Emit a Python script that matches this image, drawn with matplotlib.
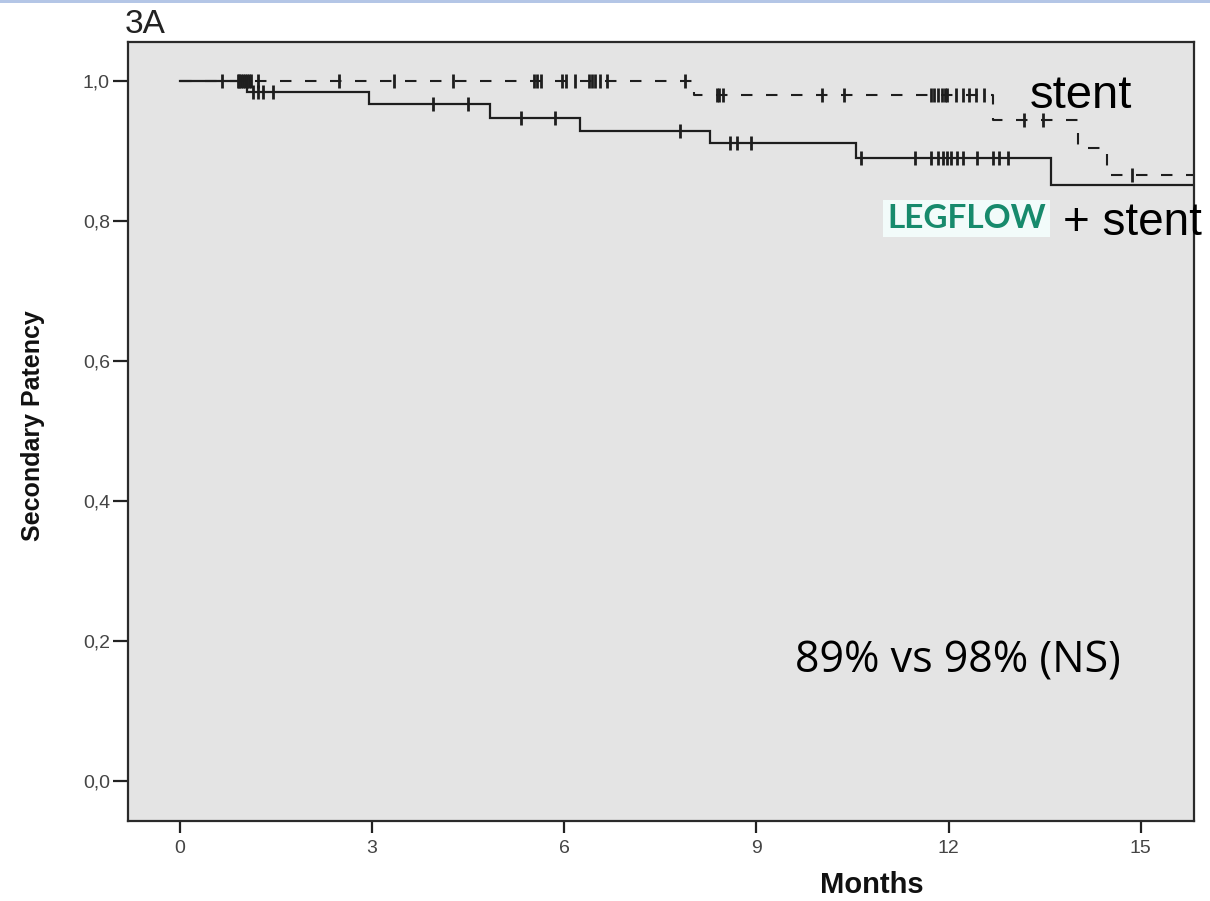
import matplotlib
matplotlib.use("Agg")
import matplotlib.pyplot as plt
import numpy as np
from matplotlib.patches import Rectangle

# ---------------- data ----------------
# LEGFLOW + stent (solid line): Kaplan-Meier steps
legflow_times = [0.0, 1.05, 2.95, 4.84, 6.25, 8.28, 10.55, 13.59, 15.83]
legflow_surv = [1.0, 0.984, 0.968, 0.948, 0.929, 0.911, 0.890, 0.851, 0.851]
legflow_censor = [0.66, 1.14, 1.22, 1.30, 1.45, 3.95, 4.50, 5.33, 5.86, 7.81,
                  8.58, 8.70, 8.91, 10.63, 11.48, 11.73, 11.83, 11.91, 11.97,
                  12.03, 12.13, 12.23, 12.45, 12.69, 12.78, 12.92]

# stent alone (dashed line)
stent_times = [0.0, 8.02, 12.70, 14.02, 14.47, 15.83]
stent_surv = [1.0, 0.980, 0.945, 0.905, 0.866, 0.866]
stent_censor = [0.90, 0.93, 0.96, 0.99, 1.02, 1.05, 1.08, 1.11, 1.22, 2.48,
                3.34, 4.27, 5.52, 5.58, 5.63, 5.97, 6.02, 6.16, 6.38, 6.44,
                6.48, 6.56, 6.67, 7.89, 8.39, 8.42, 8.47, 10.03, 10.36,
                11.72, 11.77, 11.83, 11.90, 11.95, 11.98, 12.11, 12.22, 12.31,
                12.42, 12.55, 13.17, 13.48, 14.86]

x_ticks = [0, 3, 6, 9, 12, 15]
y_ticks = [0.0, 0.2, 0.4, 0.6, 0.8, 1.0]
y_tick_labels = ["0,0", "0,2", "0,4", "0,6", "0,8", "1,0"]

# ---------------- figure ----------------
W, H = 1210, 901
fig = plt.figure(figsize=(W / 100, H / 100), dpi=100)
fig.patch.set_facecolor("white")
fig.patches.append(Rectangle((0, 1 - 3 / H), 1, 3 / H, transform=fig.transFigure,
                             facecolor="#b4c6e6", edgecolor="none"))

ax = fig.add_axes([128 / W, 1 - 821 / H, (1194 - 128) / W, (821 - 42) / H])
ax.set_facecolor("#e4e4e4")

line_col = "#1e1e1e"


def levels_at(times, surv, pts):
    idx = np.searchsorted(times, pts, side="right") - 1
    return np.asarray(surv)[idx]


ax.step(legflow_times, legflow_surv, where="post", color=line_col, lw=1.6,
        solid_joinstyle="miter")
ax.plot(legflow_censor, levels_at(legflow_times, legflow_surv, legflow_censor),
        ls="none", marker="|", ms=9.5, mew=2.0, color=line_col)

ax.step(stent_times, stent_surv, where="post", color=line_col, lw=1.5,
        linestyle=(0, (5.5, 6.5)))
ax.plot(stent_censor, levels_at(stent_times, stent_surv, stent_censor),
        ls="none", marker="|", ms=9.5, mew=2.0, color=line_col)

ax.set_xlim(-0.81, 15.83)
ax.set_ylim(-0.057, 1.056)
ax.set_xticks(x_ticks)
ax.set_xticklabels([str(v) for v in x_ticks])
ax.set_yticks(y_ticks)
ax.set_yticklabels(y_tick_labels)

for lab in ax.get_xticklabels() + ax.get_yticklabels():
    lab.set_fontfamily(["Liberation Sans", "DejaVu Sans"])
    lab.set_fontsize(14)

ax.tick_params(axis="x", direction="out", length=8.5, width=1.6, pad=5, colors="#222222",
               labelcolor="#444444")
ax.tick_params(axis="y", direction="out", length=11, width=1.6, pad=2, colors="#222222",
               labelcolor="#444444")
for sp in ax.spines.values():
    sp.set_linewidth(1.6)
    sp.set_color("#2a2a2a")

# ---------------- texts ----------------
def px(x, y):
    return x / W, 1 - y / H


fig.text(*px(872, 885), "Months", ha="center", va="center", fontsize=21,
         fontweight="bold", family=["Liberation Sans", "DejaVu Sans"], color="#111111")
fig.text(*px(33, 426), "Secondary Patency", ha="center", va="center", rotation=90,
         fontsize=18, fontweight="bold", family=["Liberation Sans", "DejaVu Sans"],
         color="#111111")
fig.text(*px(125, 33), "3A", ha="left", va="baseline", fontsize=24,
         family=["Liberation Sans", "DejaVu Sans"], color="#222222")

fig.text(*px(1030, 108), "stent", ha="left", va="baseline", fontsize=34,
         family=["Liberation Sans", "DejaVu Sans"], color="black", zorder=5)
fig.text(*px(1063, 235), "+ stent", ha="left", va="baseline", fontsize=33,
         family=["Liberation Sans", "DejaVu Sans"], color="black", zorder=5)
fig.text(*px(887, 228), "LEGFLOW", ha="left", va="baseline", fontsize=24,
         fontweight="bold", family=["Lato", "DejaVu Sans"], color="#178a6c", zorder=5,
         bbox=dict(boxstyle="square,pad=0.12", facecolor="#f2fbfa", edgecolor="none"))
fig.text(*px(795, 672), "89% vs 98% (NS)", ha="left", va="baseline", fontsize=31,
         family=["Open Sans", "DejaVu Sans"], color="black", zorder=5)

fig.savefig("out.png", dpi=100, facecolor="white")
